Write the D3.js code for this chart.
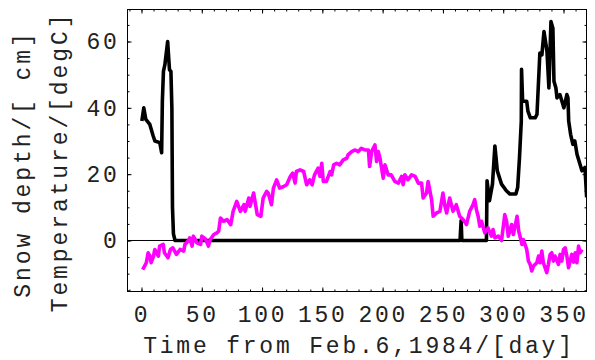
<!DOCTYPE html>
<html>
<head>
<meta charset="utf-8">
<script src="https://cdn.jsdelivr.net/npm/d3@7"></script>
<style>
body { margin: 0; background: #fff; }
text { font-family: "Liberation Mono", "Courier New", monospace; }
</style>
</head>
<body>
<svg width="595" height="360"></svg>
<script>
// snow depth (black)
var snowDays = [0.3, 1.9, 3.6, 6.9, 9.7, 11.1, 15.2, 16.7, 17.3, 18.2, 19.4, 21.7, 23.2, 24.4, 25.2, 25.7, 26.5, 27.8,
    264.2, 265.1, 265.7, 286.1, 286.6, 288.6, 291.1, 293.1, 295.1, 298.6, 302.6, 305.6, 310.5, 312, 313.5, 315, 315.2,
    316.1, 319.5, 320.5, 322.5, 326.5, 328, 330.4, 332.1, 333.8, 335.5, 336.3, 337.9, 339.6, 341.2, 342.1, 343.7,
    344.6, 347, 348.7, 350.3, 352.8, 353.7, 354.3, 355.9, 357.8, 359.4, 361.2, 365.3, 367.8, 369.2];
var snowDepth = [36, 40, 36.5, 35, 31.5, 30, 29.5, 26.5, 42, 51, 53, 60, 51.5, 51, 40, 10, 2, 0,
    0, 6, 0, 0, 18, 12, 17, 28.5, 21, 17, 15, 14, 14, 16, 25, 36, 51.6,
    42, 42, 39, 37, 37, 38, 56.5, 56, 63, 59, 57, 46, 66, 64, 48, 46,
    43, 44, 42, 40, 44, 43, 36, 32, 29, 30, 26, 21, 22, 13];

// temperature (magenta)
var tempDays = [1, 4, 5.5, 7, 8, 10, 11, 14, 15, 18, 19, 22, 24, 26, 29, 32, 35, 36, 39, 40, 42, 43, 46, 49, 50,
    53, 55.5, 57, 60, 62.5, 64, 65.5, 68, 71, 74, 76, 79, 82, 85, 86, 89, 90, 93, 96, 99,
    100.9, 103.8, 105.1, 107.8, 109.4, 112.1, 114.6, 117.5, 120.4, 123.4, 125.4, 127.4, 128.5, 131.5, 134.5,
    137, 139.5, 141.5, 143.5, 146.5, 148, 149.5, 150.8, 153.4, 156.4, 157.7, 159.4, 161.9, 164.4, 167.3,
    170.3, 171.3, 174.3, 177.3, 179.8, 182.3, 185.3, 188.2, 189.2, 190.9, 192.2, 193.6, 195, 196.4, 197.8,
    200.5, 201.9, 204.6, 207.1, 210.1, 213, 215.7, 217, 218.4, 221, 224, 227, 229.6, 232.3, 233.6, 236.4,
    237.7, 240.6, 241.9, 244.7, 247.5, 250, 251.7, 253.1, 255.6, 258.4, 261.1, 263.9, 266.7, 269.5, 272.2,
    275, 276.4, 277.8, 279.2, 280.6, 282, 284.7, 287.4, 290.2, 291.6, 293.1, 295.9, 298.6,
    301.3, 302.8, 304.2, 307, 308.4, 311.5, 312.9, 315.6, 316.7, 319.5, 320.9, 322.3, 323.7, 325.1, 327.9,
    329.3, 330.6, 332, 333.3, 334.7, 336.1, 337.5, 338.9, 340.3, 341.7, 343, 345.8, 347.2, 348.6, 350,
    351.4, 352.8, 354.2, 355.5, 356.9, 358.4, 359.7, 361.1, 362.5, 363.9, 365.3];
var tempValues = [-8.8, -6.7, -3.7, -4.7, -6.7, -4.7, -2.7, -4.7, -1.7, -1.2, -3.7, -5.2, -2.7, -2.2, -4.2, -2.7, -3.2, -1.2, 0, 0.8, -1.7, 1.3, -0.7, -1.2, 1.3,
    0.5, -1.7, 0.3, 1.8, 2.3, 2.8, 6.8, 5.8, 6.3, 4.8, 8.8, 11.8, 8.8, 10.8, 8.8, 12.8, 10.3, 14.3, 7.8, 7.3,
    12.8, 14.8, 14.3, 10.8, 15.8, 18.3, 15.8, 16.2, 16.8, 19.3, 20.3, 17.3, 20.8, 21.3, 20.8,
    16.8, 18.3, 16.8, 19.8, 21.8, 19.3, 23.3, 17.8, 17.8, 20.8, 19.8, 22.8, 23.3, 22.8, 24.3,
    24.8, 25.8, 26.8, 27.3, 26.8, 27.8, 27.3, 27.3, 22.3, 26.8, 27.8, 28.8, 23.8, 26.8, 24.8,
    18.8, 22.8, 19.8, 19.8, 17.8, 17.3, 19.3, 16.8, 19.8, 18.3, 19.8, 19.3, 17.3, 17.3, 12.8, 14.3,
    17.8, 12.3, 7.3, 8.3, 8.8, 14.3, 10.3, 8.3, 12.8, 8.8, 10.8, 7.3, 6.3, 4.8, 8.8,
    10.8, 12.3, 9.3, 7.3, 4.3, 5.8, 2.3, 3.8, 1.3, 3.3, 0.8, 1.3, 0,
    7.8, 5.8, 1.3, 4.8, 1.8, 7.3, 2.8, -1.2, 0.3, -2.7, -6.2, -7.2, -9.2, -7.7, -6.7,
    -4.7, -6.7, -3.2, -6.7, -8.2, -9.7, -7.2, -4.2, -3.7, -6.2, -4.7, -7.2, -4.2, -6.2, -2.7,
    -2.2, -4.7, -8.2, -6.2, -4.2, -6.5, -3.7, -6.7, -1.7, -3.7, -2.7];

var xTicks = [0, 50, 100, 150, 200, 250, 300, 350];
var yTicks = [0, 20, 40, 60];
var xLabel = "Time from Feb.6,1984/[day]";
var yLabels = ["Snow depth/[ cm]", "Temperature/[degC]"];

function main() {
    var svg = d3.select("svg");
    var pLeft = 127.5, pRight = 586.5, pTop = 9.5, pBottom = 291.5;

    var x = d3.scaleLinear().domain([-11.61, 369.08]).range([pLeft, pRight]);
    var y = d3.scaleLinear().domain([-15.38, 69.65]).range([pBottom, pTop]);

    svg.append("clipPath").attr("id", "clip")
        .append("rect").attr("x", pLeft).attr("y", pTop)
        .attr("width", pRight - pLeft).attr("height", pBottom - pTop);

    var plot = svg.append("g").attr("clip-path", "url(#clip)");

    // zero axis line
    plot.append("line")
        .attr("x1", pLeft).attr("x2", pRight)
        .attr("y1", y(0)).attr("y2", y(0))
        .attr("stroke", "#000").attr("stroke-width", 1);

    var snow = snowDays.map(function(d, i) { return [d, snowDepth[i]]; });
    var temp = tempDays.map(function(d, i) { return [d, tempValues[i]]; });

    var line = d3.line().x(function(d) { return x(d[0]); }).y(function(d) { return y(d[1]); });

    plot.append("path").datum(snow)
        .attr("d", line).attr("fill", "none")
        .attr("stroke", "#000").attr("stroke-width", 3.6).attr("stroke-linejoin", "round");

    plot.append("path").datum(temp)
        .attr("d", line).attr("fill", "none")
        .attr("stroke", "#ff00ff").attr("stroke-width", 3.6).attr("stroke-linejoin", "round");

    function styleAxis(g) {
        g.select(".domain").remove();
        g.selectAll("line").attr("stroke", "#000");
        g.selectAll("text").attr("fill", "#222").attr("font-size", "23px")
            .attr("font-family", "Liberation Mono, monospace").style("letter-spacing", "2.7px");
    }

    // minor ticks on all four sides
    var xMinor = d3.range(-10, 370, 10);
    var yMinor = d3.range(-15, 70, 5);
    svg.append("g").attr("transform", "translate(0," + pBottom + ")")
        .call(d3.axisBottom(x).tickValues(xMinor).tickSize(-2).tickFormat("")).call(styleAxis);
    svg.append("g").attr("transform", "translate(0," + pTop + ")")
        .call(d3.axisTop(x).tickValues(xMinor).tickSize(-2).tickFormat("")).call(styleAxis);
    svg.append("g").attr("transform", "translate(" + pLeft + ",0)")
        .call(d3.axisLeft(y).tickValues(yMinor).tickSize(-2).tickFormat("")).call(styleAxis);
    svg.append("g").attr("transform", "translate(" + pRight + ",0)")
        .call(d3.axisRight(y).tickValues(yMinor).tickSize(-2).tickFormat("")).call(styleAxis);

    // major ticks with labels
    svg.append("g").attr("transform", "translate(0," + pBottom + ")")
        .call(d3.axisBottom(x).tickValues(xTicks).tickSize(-4).tickPadding(14)).call(styleAxis);
    svg.append("g").attr("transform", "translate(0," + pTop + ")")
        .call(d3.axisTop(x).tickValues(xTicks).tickSize(-4).tickFormat("")).call(styleAxis);
    svg.append("g").attr("transform", "translate(" + pLeft + ",0)")
        .call(d3.axisLeft(y).tickValues(yTicks).tickSize(-4).tickPadding(8)).call(styleAxis);
    svg.append("g").attr("transform", "translate(" + pRight + ",0)")
        .call(d3.axisRight(y).tickValues(yTicks).tickSize(-4).tickFormat("")).call(styleAxis);

    // frame
    svg.append("rect")
        .attr("x", pLeft).attr("y", pTop).attr("width", pRight - pLeft).attr("height", pBottom - pTop)
        .attr("fill", "none").attr("stroke", "#000").attr("stroke-width", 1);

    // axis titles
    svg.append("text")
        .attr("x", (pLeft + pRight) / 2 + 2).attr("y", 353)
        .attr("text-anchor", "middle").attr("font-size", "23px").attr("fill", "#222")
        .style("letter-spacing", "2.8px")
        .text(xLabel);

    svg.selectAll(".ylab").data(yLabels).enter().append("text")
        .attr("class", "ylab")
        .attr("transform", function(d, i) { return "translate(" + (i === 0 ? 30 : 67) + "," + (i === 0 ? 164 : 162) + ") rotate(-90)"; })
        .attr("text-anchor", "middle").attr("font-size", "23px").attr("fill", "#222")
        .style("letter-spacing", "2.9px")
        .text(function(d) { return d; });
}
main();
</script>
</body>
</html>
